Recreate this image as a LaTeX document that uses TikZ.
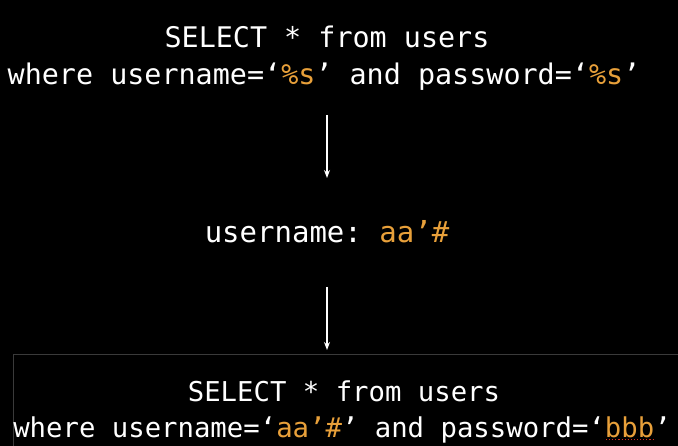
\documentclass[tikz,border=0pt]{standalone}
\usepackage{fontspec}
\setmonofont{DejaVu Sans Mono}
\usetikzlibrary{arrows.meta}
\definecolor{hl}{HTML}{E8A03A}
\definecolor{boxgray}{HTML}{3A3A3A}
\definecolor{spell}{HTML}{D03020}
\begin{document}
\begin{tikzpicture}[x=1pt,y=1pt,
  txt/.style={text=white,font=\ttfamily\fontsize{28.4}{34}\selectfont,inner sep=0pt,anchor=base},
  txtb/.style={text=white,font=\ttfamily\fontsize{27.3}{33}\selectfont,inner sep=0pt,anchor=base},
  flow/.style={draw=white,line width=1.2pt,-{Stealth[length=8pt,width=6pt]}}]
\fill[black] (0,0) rectangle (678,446);
\useasboundingbox (0,0) rectangle (678,446);
\draw[boxgray,line width=1pt] (700,-10) -- (700,91) -- (13,91) -- (13,-10);
\node[txt] (t1) at (327,398) {SELECT * from users};
\node[txt] (t2) at (324,361) {where username=‘\textcolor{hl}{\%s}’ and password=‘\textcolor{hl}{\%s}’};
\node[txt,font=\ttfamily\fontsize{29}{34}\selectfont] (m) at (327,203) {username: \textcolor{hl}{aa’\#}};
\node[txtb] (b1) at (344,44) {SELECT * from users};
\node[txtb] (b2) at (342,8) {where username=‘\textcolor{hl}{aa’\#}’ and password=‘\textcolor{hl}{bbb}’};
\coordinate (u1) at (606,6.2);
\coordinate (u2) at (655,6.2);
\draw[spell,line width=1.1pt,dotted] (u1) -- (u2);
\coordinate (a1s) at (327,331);
\coordinate (a1e) at (327,268);
\coordinate (a2s) at (327,159);
\coordinate (a2e) at (327,96);
\draw[flow] (a1s) -- (a1e);
\draw[flow] (a2s) -- (a2e);
\end{tikzpicture}
\end{document}
